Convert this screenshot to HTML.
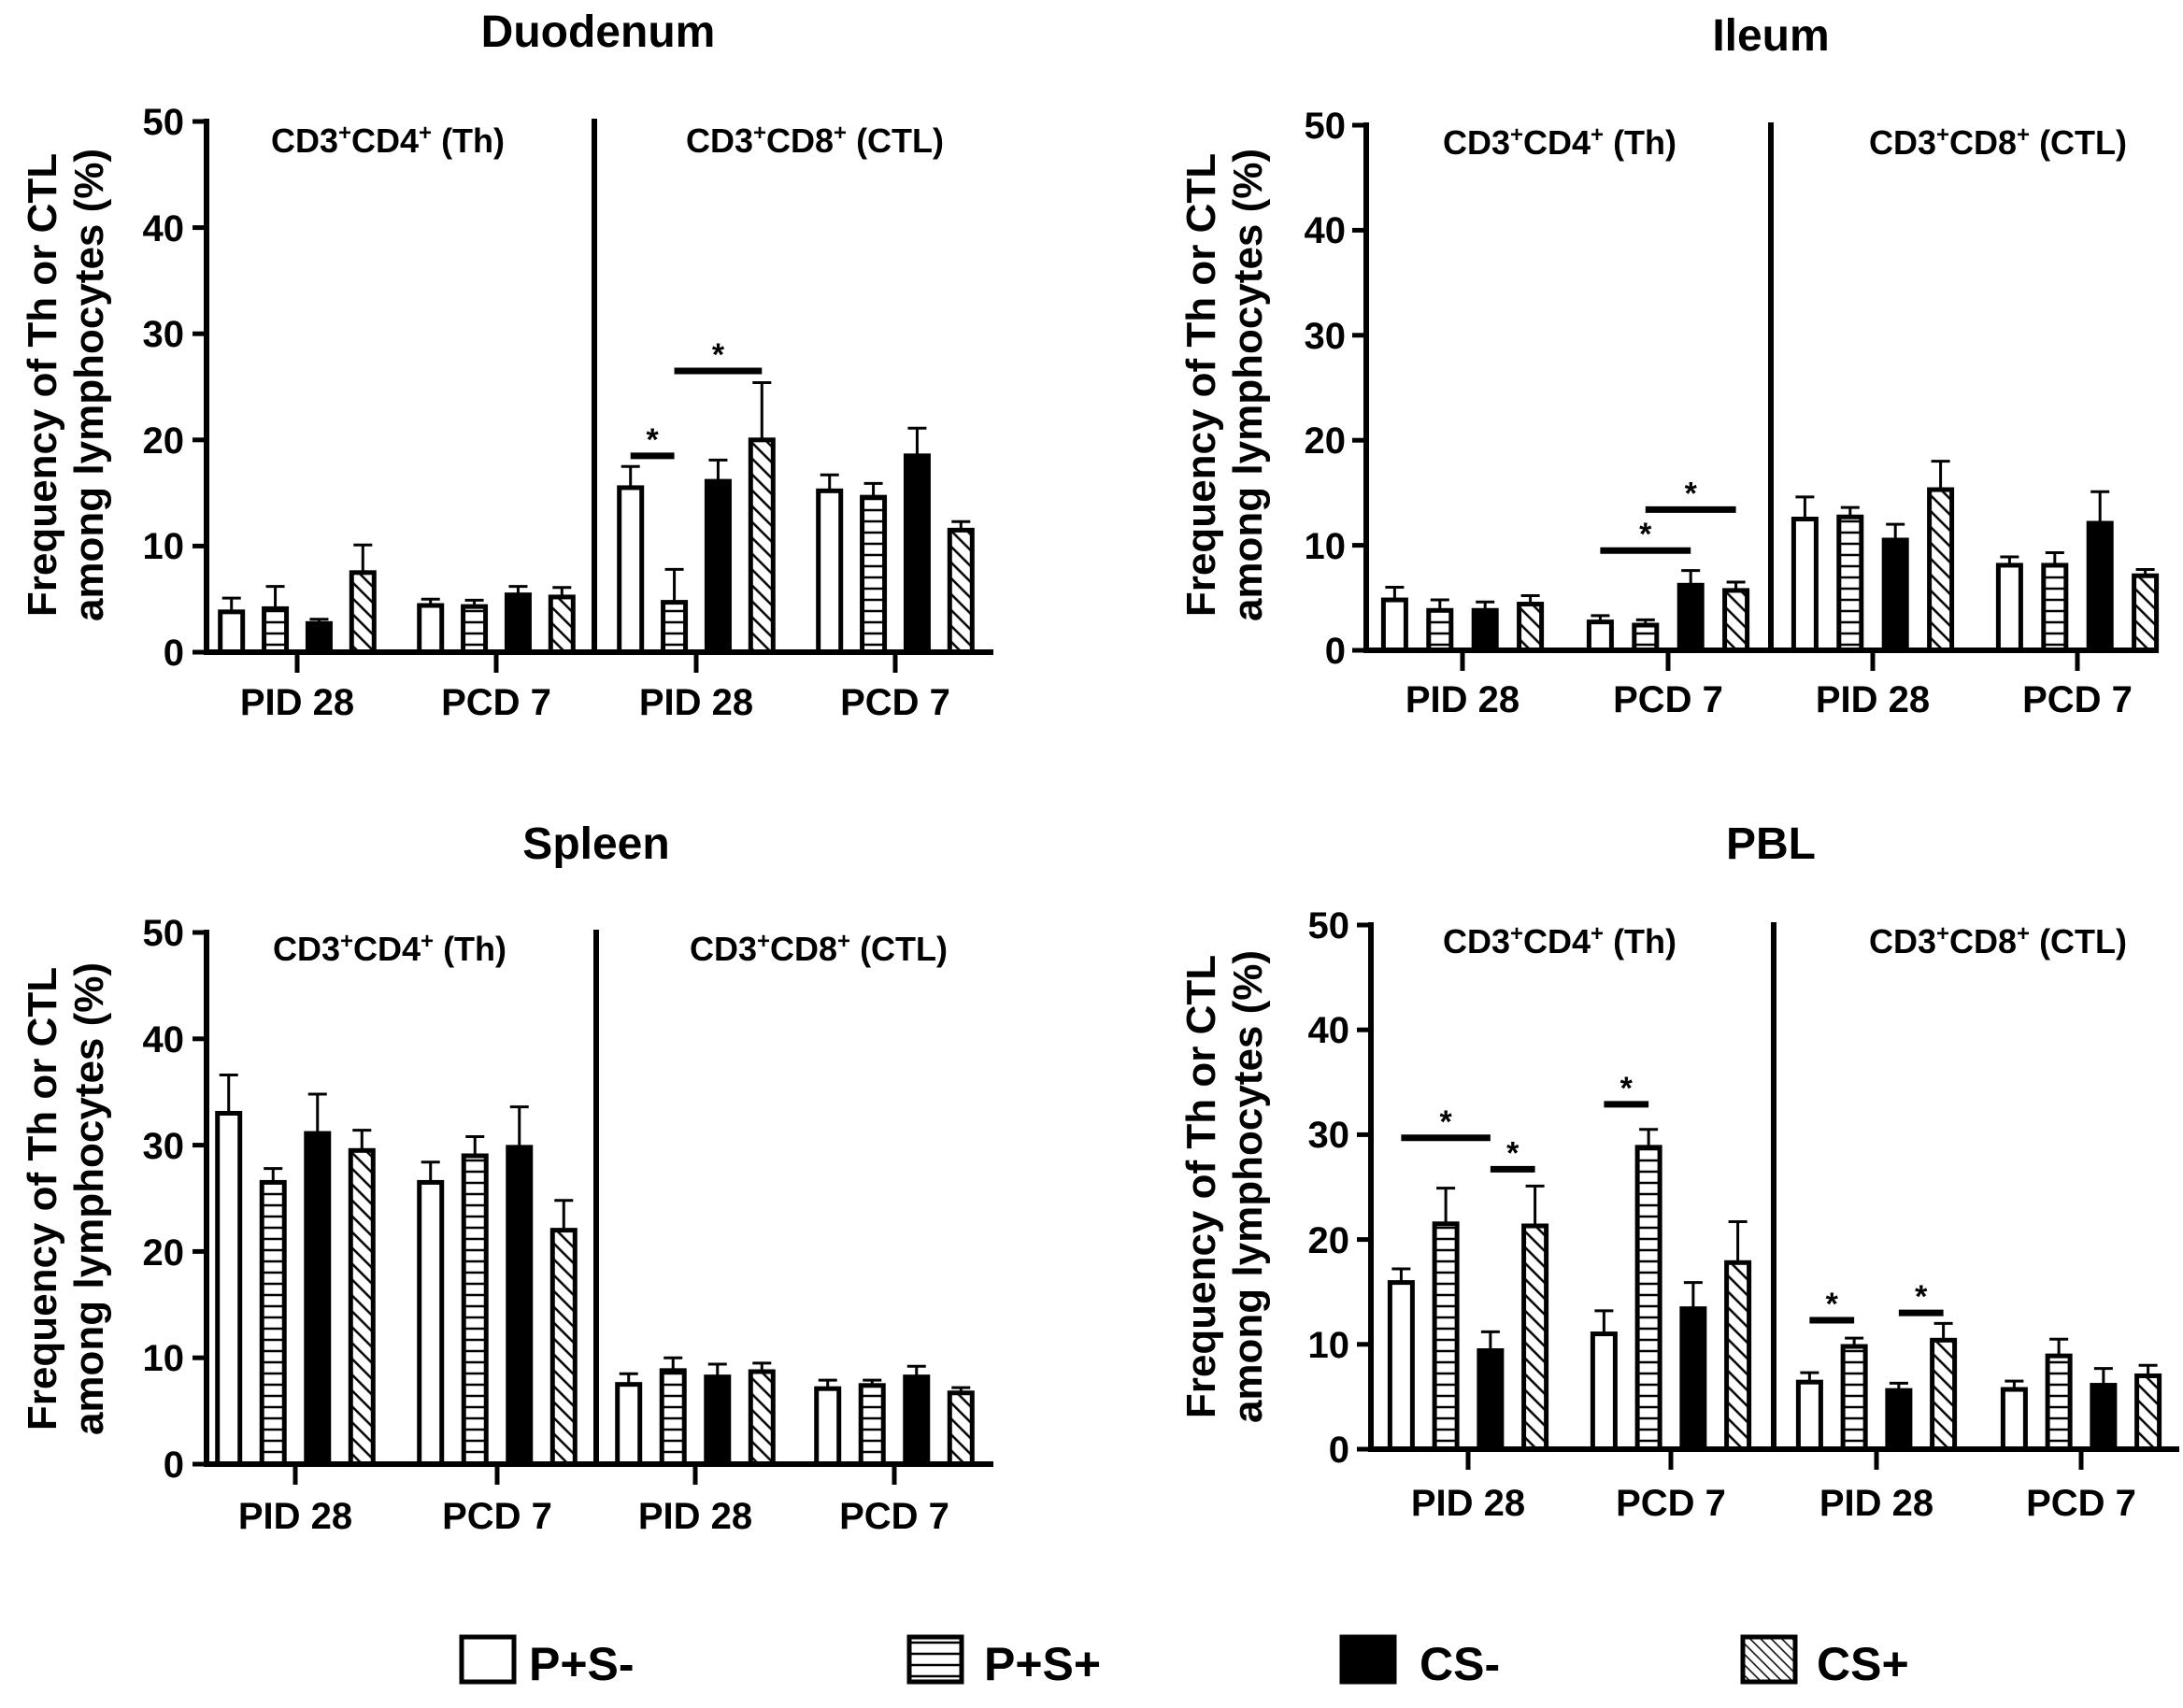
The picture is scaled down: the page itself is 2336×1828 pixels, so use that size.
<!DOCTYPE html>
<html><head><meta charset="utf-8"><style>
html,body{margin:0;padding:0;background:#fff}
svg{display:block}
text{font-family:"Liberation Sans",Arial,sans-serif;font-weight:bold;fill:#000}
</style></head><body>
<svg id="s" width="2336" height="1828" viewBox="0 0 2336 1828" xmlns="http://www.w3.org/2000/svg">
<defs>
<pattern id="hz" width="12" height="12" patternUnits="userSpaceOnUse"><rect width="12" height="12" fill="#fff"/><line x1="0" y1="6" x2="12" y2="6" stroke="#000" stroke-width="2.5"/></pattern>
<pattern id="dg" width="12" height="12" patternUnits="userSpaceOnUse" patternTransform="rotate(-45)"><rect width="12" height="12" fill="#fff"/><line x1="6" y1="0" x2="6" y2="12" stroke="#000" stroke-width="2.5"/></pattern>
<pattern id="dl" width="8" height="8" patternUnits="userSpaceOnUse" patternTransform="rotate(-45)"><rect width="8" height="8" fill="#fff"/><line x1="4" y1="0" x2="4" y2="8" stroke="#000" stroke-width="1.5"/></pattern>
</defs>
<g id="bars"></g>
<!-- titles -->
<text x="640" y="50" font-size="48" text-anchor="middle">Duodenum</text>
<text x="1895" y="54" font-size="48" text-anchor="middle">Ileum</text>
<text x="638" y="919" font-size="48" text-anchor="middle">Spleen</text>
<text x="1895" y="919" font-size="48" text-anchor="middle">PBL</text>
<!-- subtitles -->
<g font-size="36" text-anchor="middle">
<text x="415" y="163">CD3<tspan dy="-13" font-size="24">+</tspan><tspan dy="13">CD4</tspan><tspan dy="-13" font-size="24">+</tspan><tspan dy="13"> (Th)</tspan></text>
<text x="872" y="163">CD3<tspan dy="-13" font-size="24">+</tspan><tspan dy="13">CD8</tspan><tspan dy="-13" font-size="24">+</tspan><tspan dy="13"> (CTL)</tspan></text>
<text x="1669" y="165">CD3<tspan dy="-13" font-size="24">+</tspan><tspan dy="13">CD4</tspan><tspan dy="-13" font-size="24">+</tspan><tspan dy="13"> (Th)</tspan></text>
<text x="2138" y="165">CD3<tspan dy="-13" font-size="24">+</tspan><tspan dy="13">CD8</tspan><tspan dy="-13" font-size="24">+</tspan><tspan dy="13"> (CTL)</tspan></text>
<text x="417" y="1028">CD3<tspan dy="-13" font-size="24">+</tspan><tspan dy="13">CD4</tspan><tspan dy="-13" font-size="24">+</tspan><tspan dy="13"> (Th)</tspan></text>
<text x="876" y="1028">CD3<tspan dy="-13" font-size="24">+</tspan><tspan dy="13">CD8</tspan><tspan dy="-13" font-size="24">+</tspan><tspan dy="13"> (CTL)</tspan></text>
<text x="1669" y="1020">CD3<tspan dy="-13" font-size="24">+</tspan><tspan dy="13">CD4</tspan><tspan dy="-13" font-size="24">+</tspan><tspan dy="13"> (Th)</tspan></text>
<text x="2138" y="1020">CD3<tspan dy="-13" font-size="24">+</tspan><tspan dy="13">CD8</tspan><tspan dy="-13" font-size="24">+</tspan><tspan dy="13"> (CTL)</tspan></text>
</g>
<!-- y axis labels -->
<g font-size="44">
<text transform="translate(60,412) rotate(-90)" text-anchor="middle">Frequency of Th or CTL</text>
<text transform="translate(110,412) rotate(-90)" text-anchor="middle">among lymphocytes (%)</text>
<text transform="translate(60,1283) rotate(-90)" text-anchor="middle">Frequency of Th or CTL</text>
<text transform="translate(110,1283) rotate(-90)" text-anchor="middle">among lymphocytes (%)</text>
<text transform="translate(1300,412) rotate(-90)" text-anchor="middle">Frequency of Th or CTL</text>
<text transform="translate(1350,412) rotate(-90)" text-anchor="middle">among lymphocytes (%)</text>
<text transform="translate(1300,1270) rotate(-90)" text-anchor="middle">Frequency of Th or CTL</text>
<text transform="translate(1350,1270) rotate(-90)" text-anchor="middle">among lymphocytes (%)</text>
</g>
<!-- y tick labels -->
<g font-size="40" text-anchor="end">
<text x="197" y="144">50</text><text x="197" y="258">40</text><text x="197" y="371">30</text><text x="197" y="485">20</text><text x="197" y="598">10</text><text x="197" y="712">0</text>
<text x="1440" y="148">50</text><text x="1440" y="260">40</text><text x="1440" y="373">30</text><text x="1440" y="485">20</text><text x="1440" y="598">10</text><text x="1440" y="710">0</text>
<text x="197" y="1012">50</text><text x="197" y="1126">40</text><text x="197" y="1240">30</text><text x="197" y="1354">20</text><text x="197" y="1467">10</text><text x="197" y="1581">0</text>
<text x="1444" y="1004">50</text><text x="1444" y="1116">40</text><text x="1444" y="1228">30</text><text x="1444" y="1341">20</text><text x="1444" y="1453">10</text><text x="1444" y="1565">0</text>
</g>
<!-- x labels -->
<g font-size="40" text-anchor="middle">
<text x="318" y="765">PID 28</text><text x="531" y="765">PCD 7</text><text x="745" y="765">PID 28</text><text x="958" y="765">PCD 7</text>
<text x="1565" y="762">PID 28</text><text x="1785" y="762">PCD 7</text><text x="2004" y="762">PID 28</text><text x="2223" y="762">PCD 7</text>
<text x="316" y="1636">PID 28</text><text x="532" y="1636">PCD 7</text><text x="744" y="1636">PID 28</text><text x="957" y="1636">PCD 7</text>
<text x="1571" y="1622">PID 28</text><text x="1788" y="1622">PCD 7</text><text x="2008" y="1622">PID 28</text><text x="2227" y="1622">PCD 7</text>
</g>
<!-- legend -->
<g stroke="#000" stroke-width="5">
<rect x="494" y="1752" width="56" height="48" fill="#fff"/>
<rect x="973" y="1752" width="56" height="48" fill="url(#hz)"/>
<rect x="1436" y="1752" width="56" height="48" fill="#000"/>
<rect x="1865" y="1752" width="56" height="48" fill="url(#dl)"/>
</g>
<g font-size="50">
<text x="566" y="1798">P+S-</text>
<text x="1053" y="1798">P+S+</text>
<text x="1519" y="1798">CS-</text>
<text x="1944" y="1798">CS+</text>
</g>
</svg>
<script>
var NS="http://www.w3.org/2000/svg",G=document.getElementById("bars");
function el(t,a){var e=document.createElementNS(NS,t);for(var k in a)e.setAttribute(k,a[k]);G.appendChild(e);return e;}
var fills=["#fff","url(#hz)","#000","url(#dg)"];
var P=[
{ax:221,y0:698,y50:130,xe:1063,dv:636,g:[318,531,745,958],
 d:[[3.8,1.3,4.1,2.1,2.7,0.4,7.5,2.6],[4.4,0.6,4.3,0.6,5.4,0.8,5.2,0.9],[15.5,2,4.7,3.1,16.1,2,20,5.4],[15.2,1.5,14.6,1.3,18.5,2.6,11.5,0.8]],
 s:[[2,0,1,18.5],[2,1,3,26.5]]},
{ax:1462,y0:696,y50:134,xe:2310,dv:1895,g:[1565,1785,2004,2223],
 d:[[4.8,1.2,3.8,1,3.8,0.8,4.4,0.8],[2.7,0.6,2.4,0.5,6.2,1.4,5.7,0.8],[12.5,2.1,12.7,0.9,10.5,1.5,15.3,2.7],[8.1,0.8,8.1,1.2,12.1,3,7.1,0.6]],
 s:[[1,0,2,9.5],[1,1,3,13.4]]},
{ax:221,y0:1567,y50:998,xe:1063,dv:638,g:[316,532,744,957],
 d:[[33,3.6,26.5,1.3,31.1,3.7,29.5,1.9],[26.5,1.9,29,1.8,29.8,3.8,22,2.8],[7.5,1,8.8,1.2,8.2,1.2,8.7,0.8],[7.1,0.8,7.4,0.5,8.2,1,6.7,0.5]],
 s:[]},
{ax:1467,y0:1551,y50:990,xe:2332,dv:1898,g:[1571,1788,2008,2227],
 d:[[15.9,1.3,21.5,3.4,9.4,1.8,21.3,3.8],[11,2.2,28.8,1.7,13.4,2.5,17.8,3.9],[6.4,0.9,9.8,0.8,5.6,0.7,10.4,1.6],[5.7,0.8,8.9,1.6,6.1,1.6,7,1]],
 s:[[0,0,2,29.7],[0,2,3,26.7],[1,0,1,32.9],[2,0,1,12.3],[2,2,3,13.0]]}
];
P.forEach(function(p){
 var k=(p.y0-p.y50)/50,sp=(p.g[1]-p.g[0]),off=[-0.33,-0.11,0.11,0.33];
 function Y(v){return p.y0-v*k;}
 function X(gi,bi){return p.g[gi]+off[bi]*sp;}
 p.d.forEach(function(r,gi){
  for(var b=0;b<4;b++){
   var v=r[2*b],e=r[2*b+1],cx=X(gi,b),w=24;
   el("line",{x1:cx,y1:Y(v),x2:cx,y2:Y(v+e),stroke:"#000","stroke-width":3});
   el("line",{x1:cx-10,y1:Y(v+e),x2:cx+10,y2:Y(v+e),stroke:"#000","stroke-width":3});
   el("rect",{x:cx-w/2,y:Y(v),width:w,height:v*k,fill:fills[b],stroke:"#000","stroke-width":5});
  }
  el("line",{x1:p.g[gi],y1:p.y0,x2:p.g[gi],y2:p.y0+22,stroke:"#000","stroke-width":5});
 });
 el("line",{x1:p.ax,y1:p.y50-3,x2:p.ax,y2:p.y0+3,stroke:"#000","stroke-width":6});
 el("line",{x1:p.ax-3,y1:p.y0,x2:p.xe,y2:p.y0,stroke:"#000","stroke-width":6});
 el("line",{x1:p.dv,y1:p.y50-3,x2:p.dv,y2:p.y0,stroke:"#000","stroke-width":6});
 for(var t=0;t<=5;t++)el("line",{x1:p.ax-15,y1:Y(t*10),x2:p.ax,y2:Y(t*10),stroke:"#000","stroke-width":5});
 p.s.forEach(function(s){
  var x1=X(s[0],s[1]),x2=X(s[0],s[2]),y=Y(s[3]);
  el("line",{x1:x1,y1:y,x2:x2,y2:y,stroke:"#000","stroke-width":7});
  var t=el("text",{x:(x1+x2)/2,y:y-6,"font-size":34,"text-anchor":"middle"});t.textContent="*";
 });
});
</script>
</body></html>
